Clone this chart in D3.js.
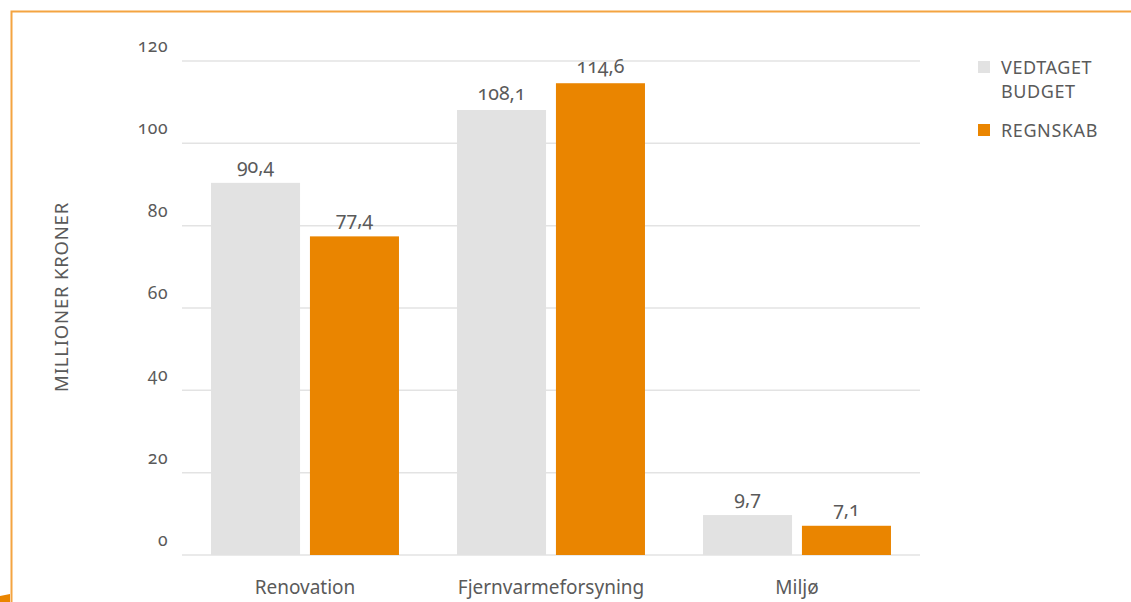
<!DOCTYPE html>
<html><head><meta charset="utf-8">
<script src="https://cdn.jsdelivr.net/npm/d3@7"></script>
<style>
html,body{margin:0;padding:0;background:#fff;}
svg text{font-family:"Noto Sans",sans-serif;font-feature-settings:"onum" 1;font-variant-numeric:oldstyle-nums;fill:#5a5a5a;}
</style></head>
<body>
<svg id="c" width="1131" height="602"></svg>
<script>
const categories = ["Renovation", "Fjernvarmeforsyning", "Miljø"];
const seriesNames = ["VEDTAGET BUDGET", "REGNSKAB"];
const budget = [90.4, 108.1, 9.7];
const regnskab = [77.4, 114.6, 7.1];
const yTicks = [0, 20, 40, 60, 80, 100, 120];
const colors = ["#e2e2e2", "#ea8500"];

const svg = d3.select("#c");
// frame
svg.append("path").attr("d","M11.5,602 L11.5,11.5 L1131,11.5").attr("fill","none").attr("stroke","#f4a441").attr("stroke-width",2);
svg.append("path").attr("d","M0,596 L10,594 L10,602 L0,602 Z").attr("fill","#ea8500");

const x0 = d3.scaleBand().domain(categories).range([182, 920]).paddingInner(0.236).paddingOuter(0.118);
const x1 = d3.scaleBand().domain(seriesNames).range([0, x0.bandwidth()]).paddingInner(0.1);
const y = d3.scaleLinear().domain([0, 120]).range([555, 61]);

// grid
svg.append("g").selectAll("line").data(yTicks).join("line")
  .attr("x1",182).attr("x2",920).attr("y1",d=>y(d)).attr("y2",d=>y(d))
  .attr("stroke","#e3e3e3").attr("stroke-width",1.5);
svg.append("g").selectAll("text").data(yTicks).join("text")
  .attr("x",168).attr("y",d=>y(d)-9).attr("text-anchor","end")
  .style("font-size","17.5px").style("letter-spacing","0.5px").text(d=>d);

const data = categories.map((c,i)=>({c, vals:[budget[i], regnskab[i]]}));
const fmt = v => String(v).replace(".", ",");
const g = svg.append("g").selectAll("g").data(data).join("g")
  .attr("transform", d=>`translate(${x0(d.c)},0)`);
g.selectAll("rect").data(d=>d.vals.map((v,j)=>({v,s:seriesNames[j],j}))).join("rect")
  .attr("x",d=>x1(d.s)).attr("width",x1.bandwidth())
  .attr("y",d=>y(d.v)).attr("height",d=>y(0)-y(d.v)).attr("fill",d=>colors[d.j]);
g.selectAll("text.v").data(d=>d.vals.map((v,j)=>({v,s:seriesNames[j],j}))).join("text")
  .attr("class","v").attr("x",d=>x1(d.s)+x1.bandwidth()/2).attr("y",d=>y(d.v)-10)
  .attr("text-anchor","middle").style("font-size","19.5px").text(d=>fmt(d.v));

svg.append("g").selectAll("text").data(categories).join("text")
  .attr("x",d=>x0(d)+x0.bandwidth()/2).attr("y",594).attr("text-anchor","middle")
  .style("font-size","19px").text(d=>d);

svg.append("text").attr("transform","translate(68,297) rotate(-90)").attr("text-anchor","middle")
  .style("font-size","18.5px").style("letter-spacing","0.8px").text("MILLIONER KRONER");

// legend
const leg = svg.append("g");
const legendLines = [["VEDTAGET","BUDGET"],["REGNSKAB"]];
const legY = [61, 124];
legendLines.forEach((lines,i)=>{
  leg.append("rect").attr("x",978).attr("y",legY[i]).attr("width",12).attr("height",12).attr("fill",colors[i]);
  lines.forEach((t,k)=>{
    leg.append("text").attr("x",1001).attr("y",legY[i]+13+k*24).style("font-size","18px").style("letter-spacing","0.6px").text(t);
  });
});
</script>
</body></html>
